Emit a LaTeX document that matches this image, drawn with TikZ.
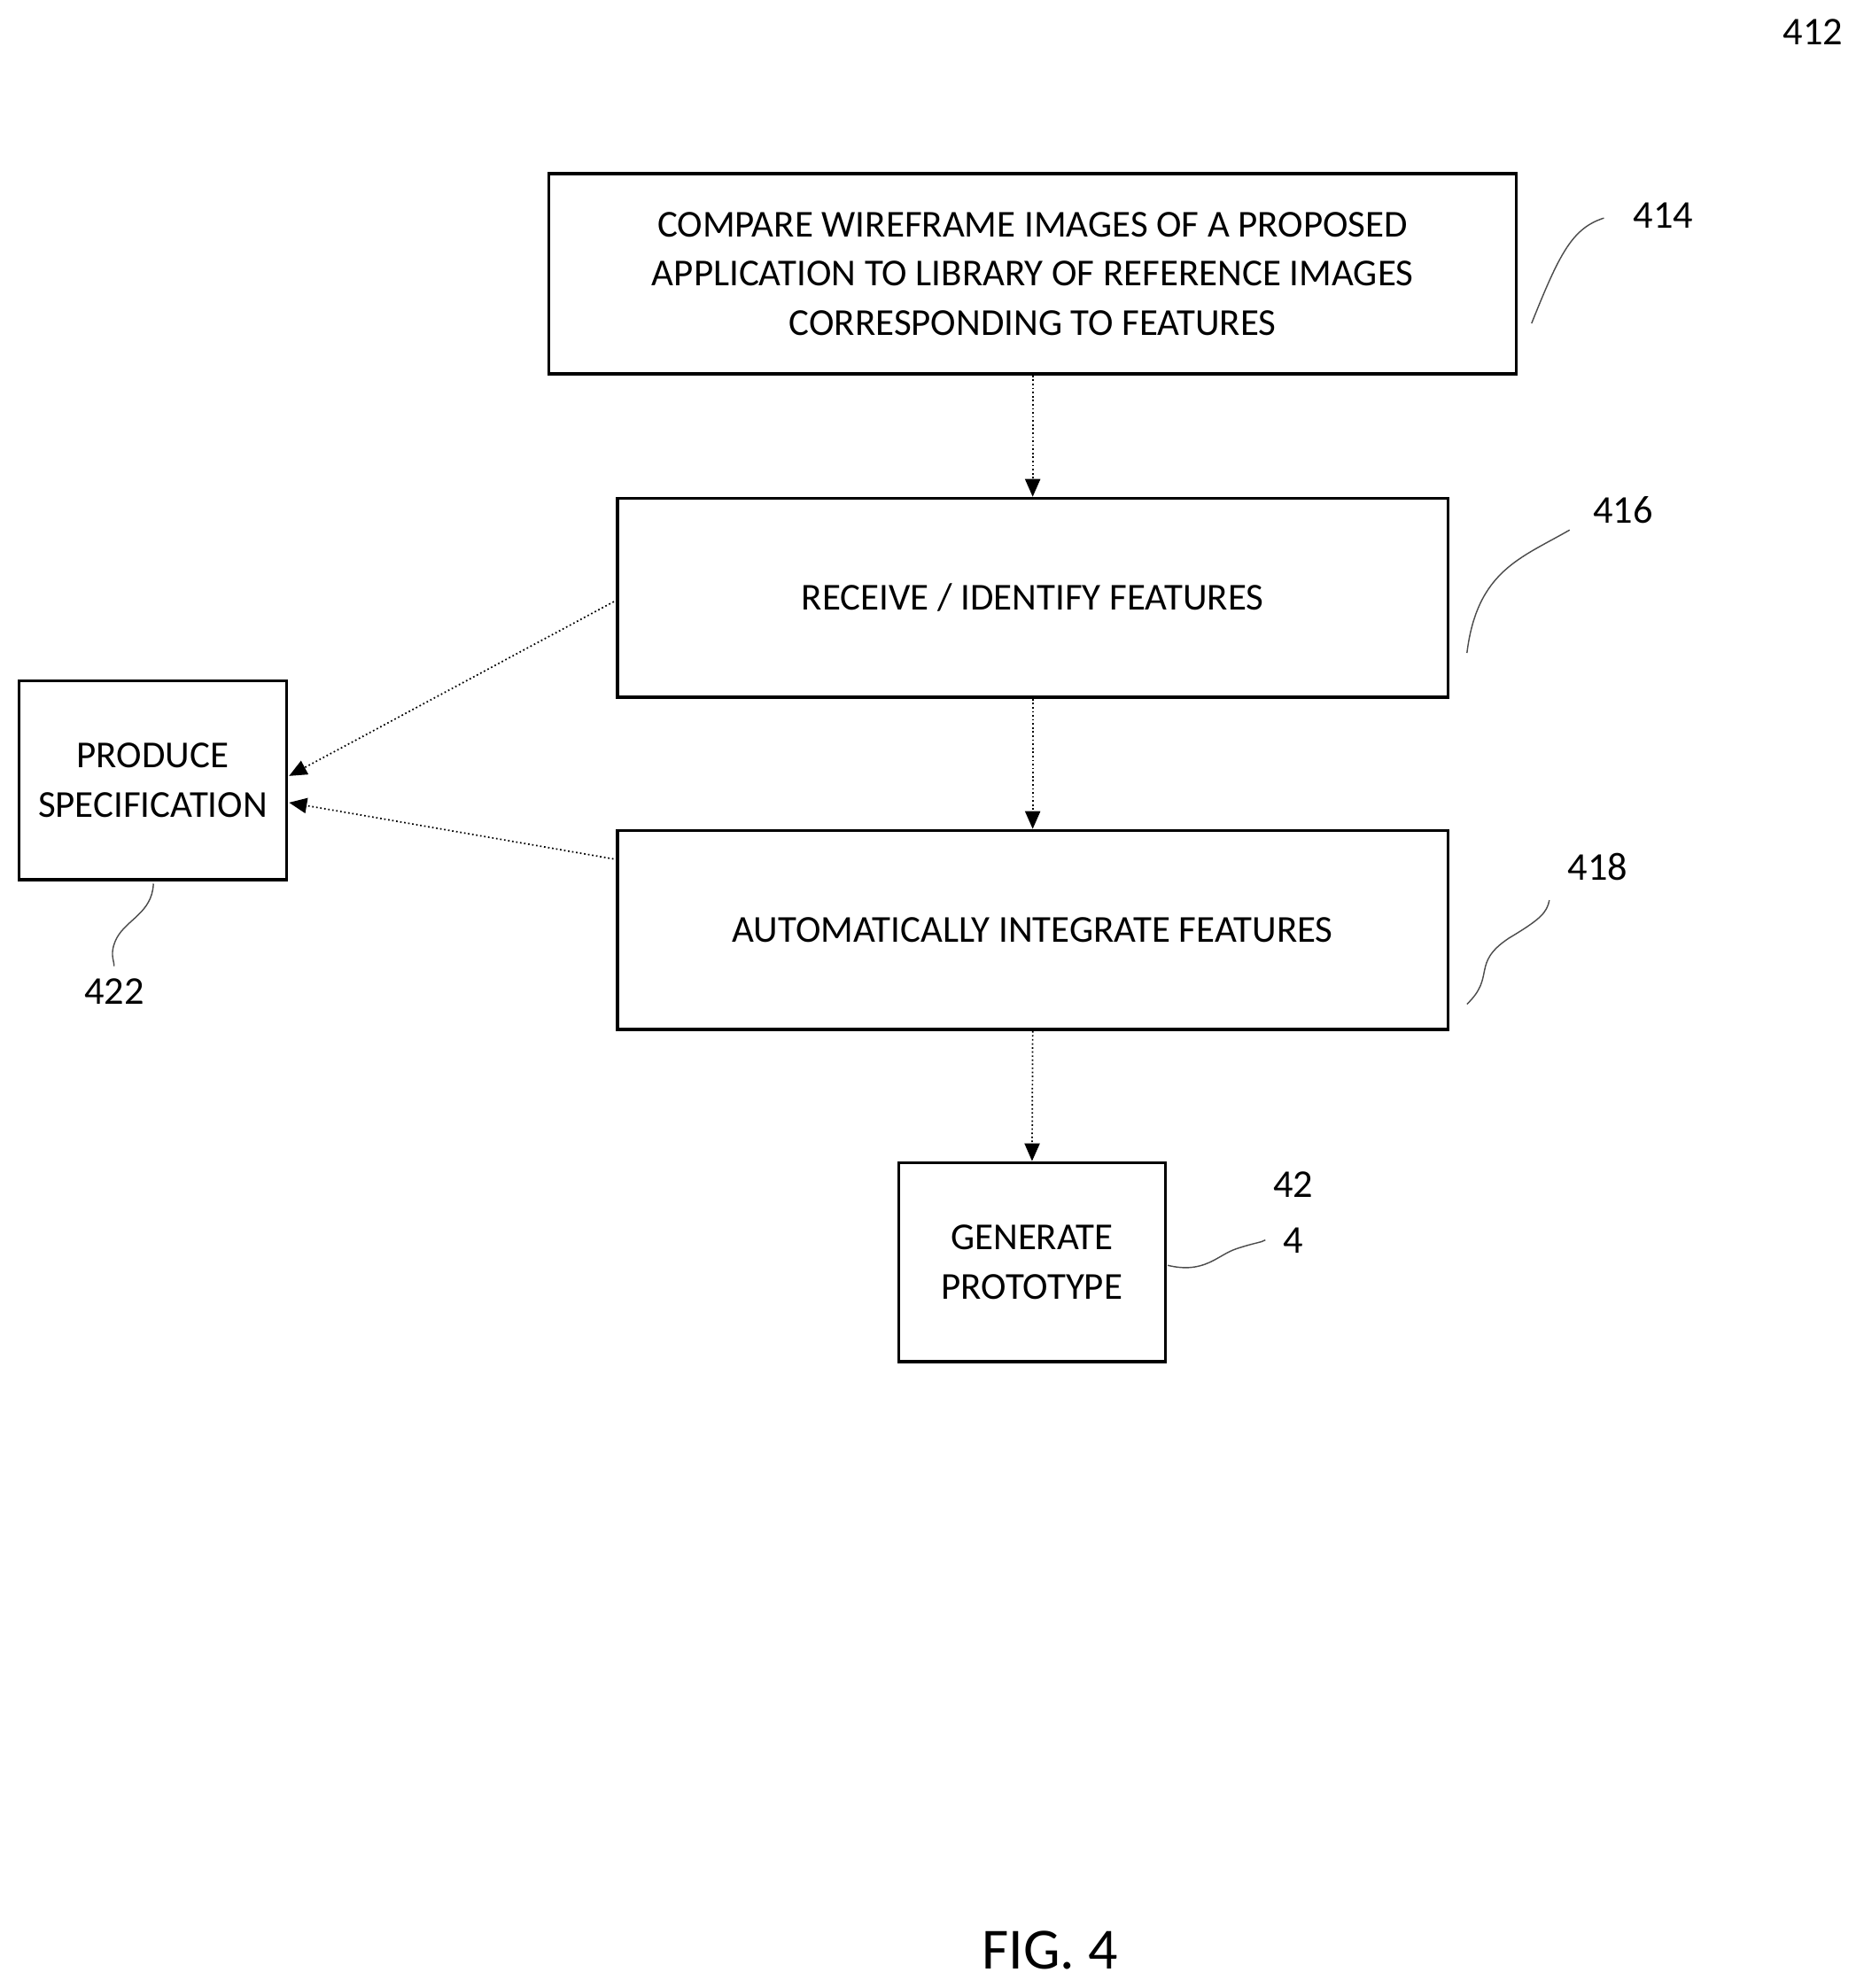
\documentclass[tikz,border=0pt]{standalone}
\usepackage{fontspec}
\setmainfont{Carlito}
\usetikzlibrary{arrows.meta}
\begin{document}
\begin{tikzpicture}[x=0.5pt,y=-0.5pt,
 box/.style={draw,line width=1.2pt,inner sep=0pt,align=center,font=\fontsize{15}{19.5}\selectfont},
 lbl/.style={font=\fontsize{15.5}{20}\selectfont},
 conn/.style={densely dotted,line width=0.6pt,-{Triangle[length=7pt,width=6pt]}},
 sq/.style={line width=0.5pt,draw=black!70}]
\useasboundingbox (0,0) rectangle (1470,1568);
\node[box,minimum width=381.5pt,minimum height=79pt] (b414) at (814.5,216) {COMPARE WIREFRAME IMAGES OF A PROPOSED\\APPLICATION TO LIBRARY OF REFERENCE IMAGES\\CORRESPONDING TO FEATURES};
\node[box,minimum width=327.5pt,minimum height=78.5pt] (b416) at (814.5,471.5) {RECEIVE / IDENTIFY FEATURES};
\node[box,minimum width=327.5pt,minimum height=78.5pt] (b418) at (814.5,733.5) {AUTOMATICALLY INTEGRATE FEATURES};
\node[box,minimum width=105.5pt,minimum height=78.5pt] (b422) at (120.5,615.5) {PRODUCE\\SPECIFICATION};
\node[box,minimum width=105pt,minimum height=78.5pt] (b424) at (814,995.5) {GENERATE\\PROTOTYPE};
\draw[conn] (b414.south) -- (b416.north);
\draw[conn] (b416.south) -- (b418.north);
\draw[conn] (b418.south) -- (b424.north);
\coordinate (a1) at (487,473); \coordinate (e1) at (228,612);
\coordinate (a2) at (487,678); \coordinate (e2) at (228,633);
\draw[conn] (a1) -- (e1);
\draw[conn] (a2) -- (e2);
\node[lbl] (l412) at (1430,25) {412};
\node[lbl] (l414) at (1312,170) {414};
\node[lbl] (l416) at (1280,402) {416};
\node[lbl] (l418) at (1260,684) {418};
\node[lbl] (l422) at (90,782) {422};
\node[lbl,align=center] (l424) at (1020,956) {42\\[2pt]4};
\draw[sq] (1208,255) .. controls (1230,200) and (1240,180) .. (1265,172);
\draw[sq] (1157,515) .. controls (1165,450) and (1200,440) .. (1238,418);
\draw[sq] (1157,792) .. controls (1180,770) and (1160,760) .. (1190,740) .. controls (1215,725) and (1220,720) .. (1222,710);
\draw[sq] (121,697) .. controls (120,720) and (100,725) .. (92,740) .. controls (86,752) and (90,757) .. (90,762);
\draw[sq] (921,998) .. controls (950,1005) and (960,990) .. (975,985) .. controls (990,980) and (995,980) .. (998,978);
\node[font=\fontsize{23}{28}\selectfont] (fig) at (828,1538) {FIG. 4};
\end{tikzpicture}
\end{document}
